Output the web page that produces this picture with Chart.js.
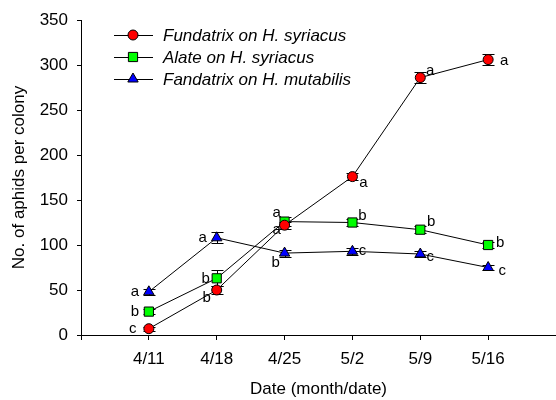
<!DOCTYPE html>
<html>
<head>
<meta charset="utf-8">
<script src="https://cdn.jsdelivr.net/npm/chart.js@4"></script>
<style>
  html, body { margin: 0; padding: 0; background: #fff; overflow: hidden; }
  #wrap { width: 556px; height: 400px; position: relative; }
</style>
</head>
<body>
<div id="wrap"><canvas id="chart_aphids"></canvas></div>
<script>
// x positions 1..6 are the sampling dates, 0 is the empty start of the axis
const dates = ['', '4/11', '4/18', '4/25', '5/2', '5/9', '5/16'];

const fundatrixSyr = [7, 50, 122, 176, 286, 306];
const alateSyr = [26, 63, 126, 125, 117, 100];
const fundatrixMut = [48, 108, 91, 93, 90, 75];

const fundatrixSyrErr = [2, 4, 4, 4, 6, 6];
const alateSyrErr = [3, 9, 5, 4, 4, 3];
const fundatrixMutErr = [3, 6, 4, 4, 3, 3];

const fundatrixSyrLetters = ['c', 'b', 'a', 'a', 'a', 'a'];
const alateSyrLetters = ['b', 'b', 'a', 'b', 'b', 'b'];
const fundatrixMutLetters = ['a', 'a', 'b', 'c', 'c', 'c'];

const seriesNames = ['Fundatrix on H. syriacus', 'Alate on H. syriacus', 'Fandatrix on H. mutabilis'];

// where each letter sits next to its marker (pixels)
const letterOffsets = [
    [[-16, 0], [-10, 8], [-8, 5], [11, 6], [10, -7], [16, 1]],
    [[-14, 0], [-11, 1], [-8, -9], [10, -7], [11, -8], [12, -2]],
    [[-14, 0], [-14, 0], [-9, 10], [10, 0], [10, 3], [14, 3]]
];

const FONT = '"Liberation Sans", Arial, sans-serif';

function toPoints(values) {
    return values.map((v, i) => ({ x: i + 1, y: v }));
}

const errors = [fundatrixSyrErr, alateSyrErr, fundatrixMutErr];
const letters = [fundatrixSyrLetters, alateSyrLetters, fundatrixMutLetters];

// Error bars drawn under the markers
const errorBarPlugin = {
    id: 'errorBars',
    beforeDatasetsDraw(chart) {
        const ctx = chart.ctx;
        const yScale = chart.scales.y;
        ctx.save();
        ctx.strokeStyle = '#000';
        ctx.lineWidth = 1;
        chart.data.datasets.forEach((ds, di) => {
            const meta = chart.getDatasetMeta(di);
            meta.data.forEach((pt, i) => {
                const v = ds.data[i].y;
                const e = errors[di][i];
                const top = Math.round(yScale.getPixelForValue(v + e)) + 0.5;
                const bot = Math.round(yScale.getPixelForValue(v - e)) + 0.5;
                const x = Math.round(pt.x) + 0.5;
                ctx.beginPath();
                ctx.moveTo(x, top); ctx.lineTo(x, bot);
                ctx.moveTo(x - 6, top); ctx.lineTo(x + 6, top);
                ctx.moveTo(x - 6, bot); ctx.lineTo(x + 6, bot);
                ctx.stroke();
            });
        });
        ctx.restore();
    }
};

// significance letters next to the points
const letterPlugin = {
    id: 'letters',
    afterDatasetsDraw(chart) {
        const ctx = chart.ctx;
        ctx.save();
        ctx.fillStyle = '#000';
        ctx.font = '15px ' + FONT;
        ctx.textAlign = 'center';
        ctx.textBaseline = 'middle';
        chart.data.datasets.forEach((ds, di) => {
            const meta = chart.getDatasetMeta(di);
            meta.data.forEach((pt, i) => {
                const off = letterOffsets[di][i];
                ctx.fillText(letters[di][i], pt.x + off[0], pt.y + off[1]);
            });
        });
        ctx.restore();
    }
};

// legend with line + marker, like the original plot
const lineLegendPlugin = {
    id: 'lineLegend',
    afterDraw(chart) {
        const ctx = chart.ctx;
        ctx.save();
        ctx.font = 'italic 17px ' + FONT;
        ctx.textBaseline = 'middle';
        ctx.textAlign = 'left';
        chart.data.datasets.forEach((ds, di) => {
            const y = 35 + di * 22;
            ctx.strokeStyle = '#000';
            ctx.lineWidth = 1;
            ctx.beginPath();
            ctx.moveTo(114, y + 0.5);
            ctx.lineTo(153, y + 0.5);
            ctx.stroke();
            ctx.fillStyle = ds.pointBackgroundColor;
            ctx.strokeStyle = '#000';
            Chart.helpers.drawPoint(ctx, {
                pointStyle: ds.pointStyle,
                radius: ds.pointRadius,
                borderWidth: 1,
                rotation: 0
            }, 133, y);
            ctx.fillStyle = '#000';
            ctx.fillText(ds.label, 163, y + 1);
        });
        ctx.restore();
    }
};

const datasets = [
    {
        label: seriesNames[0],
        data: toPoints(fundatrixSyr),
        pointStyle: 'circle',
        pointRadius: 5,
        pointBackgroundColor: '#ff0000'
    },
    {
        label: seriesNames[1],
        data: toPoints(alateSyr),
        pointStyle: 'rect',
        pointRadius: 6.5,
        pointBackgroundColor: '#00ff00'
    },
    {
        label: seriesNames[2],
        data: toPoints(fundatrixMut),
        pointStyle: 'triangle',
        pointRadius: 6,
        pointBackgroundColor: '#0000ff'
    }
].map(ds => Object.assign(ds, {
    borderColor: '#000',
    borderWidth: 1,
    pointBorderColor: '#000',
    pointBorderWidth: 1,
    pointHoverRadius: ds.pointRadius,
    tension: 0
}));

const ctx = document.getElementById('chart_aphids').getContext('2d');

new Chart(ctx, {
    type: 'line',
    data: { datasets: datasets },
    plugins: [errorBarPlugin, letterPlugin, lineLegendPlugin],
    options: {
        responsive: true,
        maintainAspectRatio: false,
        animation: false,
        // the plot area runs right up to the edge of the picture
        layout: { autoPadding: false, padding: { top: 20, right: 0, left: 0, bottom: 0 } },
        plugins: {
            legend: { display: false },
            tooltip: { enabled: false }
        },
        scales: {
            x: {
                type: 'linear',
                min: 0,
                max: 7,
                afterBuildTicks: scale => {
                    scale.ticks = dates.map((d, i) => ({ value: i }));
                },
                afterFit: scale => { scale.height = 65; },
                border: { color: '#000', width: 1 },
                grid: { drawOnChartArea: false, color: '#000', tickLength: 5 },
                ticks: {
                    color: '#000',
                    font: { family: FONT, size: 17 },
                    padding: 9,
                    maxRotation: 0,
                    autoSkip: false,
                    callback: value => dates[value] || ''
                },
                title: {
                    display: true,
                    text: 'Date (month/date)',
                    color: '#000',
                    font: { family: FONT, size: 17 },
                    padding: { top: 0, bottom: 0 }
                }
            },
            y: {
                min: 0,
                max: 350,
                afterFit: scale => { scale.width = 81; },
                border: { color: '#000', width: 1 },
                grid: { drawOnChartArea: false, color: '#000', tickLength: 4 },
                ticks: {
                    stepSize: 50,
                    color: '#000',
                    font: { family: FONT, size: 17 },
                    padding: 9
                },
                title: {
                    display: true,
                    text: 'No. of aphids per colony',
                    color: '#000',
                    font: { family: FONT, size: 17 },
                    padding: { top: 9, bottom: 9 }
                }
            }
        }
    }
});
</script>
</body>
</html>
